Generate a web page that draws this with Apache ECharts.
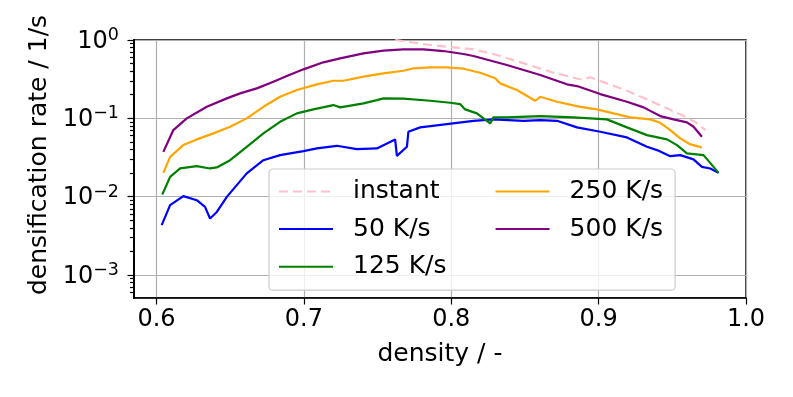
<!DOCTYPE html>
<html>
<head>
<meta charset="utf-8">
<script src="https://cdn.jsdelivr.net/npm/echarts@6/dist/echarts.min.js"></script>
<style>
  html, body { margin: 0; padding: 0; background: #fff; }
  #chart { width: 793px; height: 397px; }
</style>
</head>
<body>
<div id="chart"></div>
<script>
// tick positions
const xTicks = [0.6, 0.7, 0.8, 0.9, 1.0];
const yTicks = [1e-3, 1e-2, 1e-1, 1];
const yMinorTicks = [
  6e-4, 7e-4, 8e-4, 9e-4,
  2e-3, 3e-3, 4e-3, 5e-3, 6e-3, 7e-3, 8e-3, 9e-3,
  2e-2, 3e-2, 4e-2, 5e-2, 6e-2, 7e-2, 8e-2, 9e-2,
  2e-1, 3e-1, 4e-1, 5e-1, 6e-1, 7e-1, 8e-1, 9e-1
];
const yMin = 5.08e-4;
const yMax = 1;

// [density, rate]
const instant = [
  [0.762, 1.0], [0.7857, 0.863], [0.8083, 0.783], [0.8151, 0.760], [0.8310, 0.643],
  [0.8490, 0.504], [0.8694, 0.382], [0.8875, 0.315], [0.8943, 0.334], [0.9056, 0.2795],
  [0.9192, 0.2249], [0.9328, 0.1746], [0.9464, 0.134], [0.9599, 0.1028], [0.9667, 0.0861],
  [0.9724, 0.0708]
];
const rate50 = [
  [0.6035, 0.00432], [0.6092, 0.00778], [0.6182, 0.01014], [0.6273, 0.00901], [0.6329, 0.0074],
  [0.6363, 0.00526], [0.6409, 0.00638], [0.6477, 0.00993], [0.6612, 0.0198], [0.6725, 0.0292],
  [0.6838, 0.0339], [0.6997, 0.0381], [0.7088, 0.0413], [0.7223, 0.0446], [0.7359, 0.0404],
  [0.7495, 0.0413], [0.7619, 0.0538], [0.7631, 0.0332], [0.7699, 0.0433], [0.7709, 0.0673],
  [0.7789, 0.0766], [0.7970, 0.0844], [0.8151, 0.0930], [0.8286, 0.0969], [0.8490, 0.0930],
  [0.8604, 0.0949], [0.8717, 0.0930], [0.8853, 0.0766], [0.9011, 0.0673], [0.9192, 0.0571],
  [0.9328, 0.0433], [0.9396, 0.0393], [0.9486, 0.0329], [0.9554, 0.0339], [0.9644, 0.0299],
  [0.9701, 0.0240], [0.9757, 0.0229], [0.9814, 0.0201]
];
const rate125 = [
  [0.6039, 0.01066], [0.6092, 0.0179], [0.6160, 0.0229], [0.6273, 0.0245], [0.6363, 0.0229],
  [0.6409, 0.0236], [0.6499, 0.0292], [0.6612, 0.0433], [0.6725, 0.0642], [0.6838, 0.0903],
  [0.6952, 0.1156], [0.7064, 0.130], [0.7200, 0.1476], [0.7246, 0.138], [0.7404, 0.155],
  [0.7495, 0.171], [0.7540, 0.1798], [0.7675, 0.178], [0.7857, 0.1676], [0.7993, 0.158],
  [0.8060, 0.152], [0.8094, 0.130], [0.8174, 0.1156], [0.8264, 0.0861], [0.8286, 0.1028],
  [0.8377, 0.1028], [0.8604, 0.1068], [0.8830, 0.1028], [0.9056, 0.0969], [0.9192, 0.0766],
  [0.9328, 0.0610], [0.9464, 0.0538], [0.9532, 0.0455], [0.9599, 0.0356], [0.9712, 0.0339],
  [0.9814, 0.0201]
];
const rate250 = [
  [0.6046, 0.0201], [0.6092, 0.0322], [0.6182, 0.0455], [0.6273, 0.0538], [0.6386, 0.0642],
  [0.6499, 0.0779], [0.6612, 0.0998], [0.6725, 0.1403], [0.6838, 0.1884], [0.6952, 0.2296],
  [0.7088, 0.2716], [0.7200, 0.302], [0.7268, 0.302], [0.7404, 0.340], [0.7540, 0.375],
  [0.7675, 0.405], [0.7743, 0.435], [0.7857, 0.448], [0.7970, 0.448], [0.8083, 0.430],
  [0.8196, 0.382], [0.8298, 0.324], [0.8332, 0.2795], [0.8445, 0.2296], [0.8570, 0.1676],
  [0.8604, 0.1884], [0.8717, 0.1627], [0.8875, 0.1403], [0.8988, 0.130], [0.9101, 0.1156],
  [0.9215, 0.1028], [0.9350, 0.0969], [0.9418, 0.0877], [0.9486, 0.0708], [0.9554, 0.0554],
  [0.9622, 0.0464], [0.9701, 0.0425]
];
const rate500 = [
  [0.6046, 0.0373], [0.6114, 0.0708], [0.6205, 0.0998], [0.6341, 0.1403], [0.6477, 0.1798],
  [0.6567, 0.2083], [0.6680, 0.2413], [0.6793, 0.2931], [0.6884, 0.3465], [0.6997, 0.422],
  [0.7132, 0.519], [0.7246, 0.583], [0.7404, 0.676], [0.7540, 0.730], [0.7675, 0.760],
  [0.7811, 0.760], [0.7947, 0.723], [0.8083, 0.662], [0.8151, 0.624], [0.8377, 0.479],
  [0.8604, 0.357], [0.8785, 0.2716], [0.8853, 0.2582], [0.9011, 0.204], [0.9192, 0.1627],
  [0.9305, 0.138], [0.9418, 0.1068], [0.9508, 0.0969], [0.9599, 0.0887], [0.9644, 0.0780],
  [0.9701, 0.0581]
];

const font = 'DejaVu Sans';
const axisLine = { show: true, onZero: false, lineStyle: { color: '#000', width: 1.5 } };

function line(name, data, color, dashed) {
  return {
    name: name,
    type: 'line',
    data: data,
    symbol: 'none',
    showSymbol: false,
    clip: true,
    lineStyle: { color: color, width: 2.2, type: dashed ? [9, 5] : 'solid' },
    itemStyle: { color: color },
    emphasis: { disabled: true }
  };
}

// extra value axes (log10 space) that only carry the tick marks
function tickAxis(values, len) {
  return {
    type: 'value',
    min: Math.log10(yMin), max: Math.log10(yMax),
    position: 'left',
    offset: 0,
    axisLine: axisLine,
    axisLabel: { show: false },
    splitLine: { show: false },
    axisTick: {
      show: true, length: len, inside: false,
      lineStyle: { color: '#000', width: 1.2 },
      customValues: values.map(v => Math.log10(v))
    }
  };
}

let chart = echarts.init(document.getElementById('chart'));
let option = {
  animation: false,
  backgroundColor: '#fff',
  grid: {
    left: 134, right: 47, top: 40, bottom: 99,
    show: true, borderColor: '#000', borderWidth: 1.5, backgroundColor: 'transparent'
  },
  legend: {
    orient: 'vertical',
    left: 269, top: 169,
    height: 118,
    padding: [10, 12, 11, 9],
    itemWidth: 54, itemHeight: 14,
    itemGap: 12.6,
    itemStyle: { opacity: 0 },
    backgroundColor: 'rgba(255,255,255,0.8)',
    borderColor: '#cccccc', borderWidth: 1.2, borderRadius: 4,
    textStyle: { fontFamily: font, fontSize: 25, color: '#000', lineHeight: 22, padding: [0, 0, 0, 15] },
    data: [
      { name: 'instant', textStyle: { width: 129 } },
      { name: '50 K/s', textStyle: { width: 129 } },
      { name: '125 K/s', textStyle: { width: 129 } },
      { name: '250 K/s' },
      { name: '500 K/s' }
    ]
  },
  xAxis: {
    type: 'value',
    min: 0.5847, max: 1.0,
    name: 'density / -',
    nameLocation: 'middle',
    nameGap: 44,
    nameTextStyle: { fontFamily: font, fontSize: 25, color: '#000' },
    axisLine: axisLine,
    axisTick: { show: true, length: 6.5, inside: false, lineStyle: { color: '#000', width: 1.2 }, customValues: xTicks },
    axisLabel: {
      fontFamily: font, fontSize: 24, color: '#000', margin: 10,
      customValues: xTicks,
      formatter: v => v.toFixed(1)
    },
    splitLine: { show: true, lineStyle: { color: '#b0b0b0', width: 1.2 } }
  },
  yAxis: [
    {
      type: 'log',
      min: yMin, max: yMax,
      name: 'densification rate / 1/s',
      nameLocation: 'middle',
      nameGap: 80,
      nameTextStyle: { fontFamily: font, fontSize: 25, color: '#000', padding: [0, 0, 0, 28] },
      axisLine: axisLine,
      axisTick: { show: false },
      axisLabel: {
        margin: 15,
        customValues: yTicks,
        formatter: v => {
          const e = Math.round(Math.log10(v));
          return '{b|10}{e|' + (e < 0 ? '\u2212' + (-e) : e) + '}';
        },
        rich: {
          b: { fontFamily: font, fontSize: 24, color: '#000', lineHeight: 27, verticalAlign: 'bottom' },
          e: { fontFamily: font, fontSize: 17.5, color: '#000', lineHeight: 27, verticalAlign: 'top' }
        }
      },
      splitLine: { show: true, lineStyle: { color: '#b0b0b0', width: 1.2 } }
    },
    tickAxis(yTicks, 6.5),
    tickAxis(yMinorTicks, 4)
  ],
  series: [
    line('instant', instant, '#ffc0cb', true),
    line('50 K/s', rate50, '#0000ff'),
    line('125 K/s', rate125, '#008000'),
    line('250 K/s', rate250, '#ffa500'),
    line('500 K/s', rate500, '#800080')
  ]
};
chart.setOption(option);
window.addEventListener('resize', () => {
  chart.resize();
});
</script>
</body>
</html>
